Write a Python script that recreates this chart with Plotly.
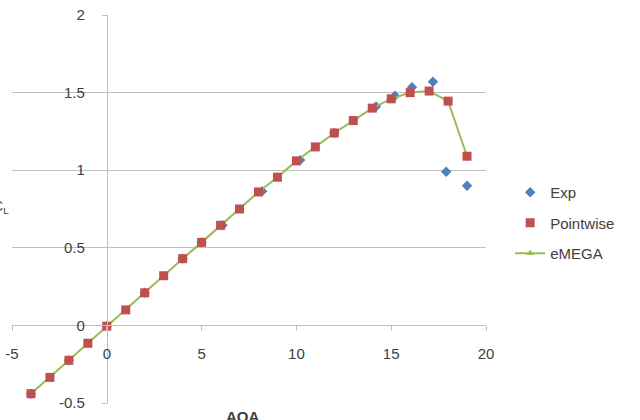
import plotly.graph_objects as go

# Data
aoa = [-4, -3, -2, -1, 0, 1, 2, 3, 4, 5, 6, 7, 8, 9, 10, 11, 12, 13, 14, 15, 16, 17, 18, 19]
pointwise = [-0.44, -0.335, -0.225, -0.115, -0.005, 0.10, 0.21, 0.32, 0.43, 0.535, 0.645, 0.75,
             0.86, 0.955, 1.06, 1.15, 1.24, 1.32, 1.40, 1.46, 1.50, 1.51, 1.445, 1.09]
emega = [-0.44, -0.335, -0.225, -0.115, -0.005, 0.10, 0.21, 0.32, 0.43, 0.535, 0.645, 0.75,
         0.86, 0.955, 1.06, 1.15, 1.24, 1.32, 1.40, 1.46, 1.50, 1.51, 1.445, 1.09]
exp_x = [-4.0, -2.0, 0.0, 2.0, 4.0, 5.0, 6.1, 8.2, 10.2, 12.0, 14.2, 15.2, 16.1, 17.2, 17.9, 19.0]
exp_y = [-0.44, -0.225, -0.005, 0.21, 0.43, 0.535, 0.645, 0.865, 1.065, 1.24, 1.41, 1.48, 1.535, 1.57, 0.99, 0.90]

x_ticks = [-5, 0, 5, 10, 15, 20]
y_ticks = [-0.5, 0, 0.5, 1, 1.5, 2]

BLUE = "#4F81BD"
RED = "#C0504D"
GREEN = "#9BBB59"
GRID = "#BFBFBF"
TXT = "#404040"
FONT = "Liberation Sans"
FS = 15

fig = go.Figure()
fig.add_trace(go.Scatter(x=exp_x, y=exp_y, mode="markers", name="Exp",
                         marker=dict(symbol="diamond", size=8, color=BLUE),
                         legendgroup="a", legendrank=1))
fig.add_trace(go.Scatter(x=aoa, y=emega, mode="lines+markers", name="eMEGA",
                         line=dict(color=GREEN, width=2),
                         marker=dict(symbol="triangle-up", size=7, color=GREEN),
                         legendgroup="c", legendrank=3))
fig.add_trace(go.Scatter(x=aoa, y=pointwise, mode="markers", name="Pointwise",
                         marker=dict(symbol="square", size=9, color=RED),
                         legendgroup="b", legendrank=2))

fig.update_layout(
    width=640, height=420,
    margin=dict(l=12, r=154, t=15, b=17, autoexpand=False),
    paper_bgcolor="white", plot_bgcolor="white",
    font=dict(family=FONT, size=FS, color=TXT),
    legend=dict(x=1.051, y=0.585, xanchor="left", yanchor="top",
                font=dict(family=FONT, size=FS, color=TXT),
                tracegroupgap=8, bgcolor="rgba(0,0,0,0)"),
    xaxis=dict(range=[-5, 20], tickvals=x_ticks, ticktext=[str(v) for v in x_ticks],
               showgrid=False, zeroline=False, showline=True, linecolor=GRID, linewidth=1,
               anchor="free", position=0.2, ticks="outside", ticklen=5, tickcolor=GRID,
               ticklabelstandoff=10, automargin=False, fixedrange=True),
    yaxis=dict(range=[-0.5, 2], tickvals=y_ticks, ticktext=["-0.5", "0", "0.5", "1", "1.5", "2"],
               showgrid=True, gridcolor=GRID, gridwidth=1, zeroline=False,
               showline=True, linecolor=GRID, linewidth=1,
               anchor="free", position=0.2, ticks="outside", ticklen=5, tickcolor=GRID,
               ticklabelstandoff=14, automargin=False, fixedrange=True),
    annotations=[
        dict(text="<b>AOA</b>", x=0.487, y=-0.035, xref="paper", yref="paper",
             xanchor="center", yanchor="middle", showarrow=False,
             font=dict(family=FONT, size=FS, color=TXT)),
        dict(text="C<sub>L</sub>", x=0, y=0.505, xref="paper", yref="paper",
             xanchor="right", yanchor="middle", showarrow=False, xshift=-1,
             font=dict(family=FONT, size=14, color=TXT)),
    ],
)

fig.write_html("out.html")
